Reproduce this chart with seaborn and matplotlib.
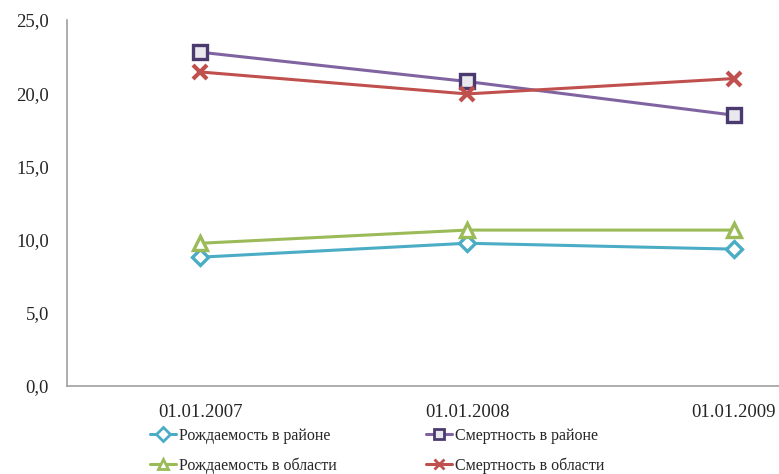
import pandas
import seaborn as sns
import matplotlib.pyplot as plt

dates = ["01.01.2007", "01.01.2008", "01.01.2009"]
birth_district = [8.8, 9.75, 9.35]
death_district = [22.8, 20.8, 18.5]
birth_region = [9.75, 10.65, 10.65]
death_region = [21.45, 19.95, 21.0]

names = ["Рождаемость в районе", "Смертность в районе",
         "Рождаемость в области", "Смертность в области"]
series = [birth_district, death_district, birth_region, death_region]

df = pandas.concat(
    [pandas.DataFrame({"date": dates, "value": vals, "series": name})
     for name, vals in zip(names, series)],
    ignore_index=True,
)

palette = {names[0]: "#4BACC6", names[1]: "#8064A2",
           names[2]: "#9BBB59", names[3]: "#C0504D"}
marker_of = {names[0]: "D", names[1]: "s", names[2]: "^", names[3]: "x"}
face_of = {names[0]: "white", names[1]: "#E8E8EE", names[2]: "white", names[3]: "none"}
edge_of = {names[0]: "#4BACC6", names[1]: "#4B3A6E", names[2]: "#9BBB59", names[3]: "#C0504D"}
size_of = {names[0]: 8, names[1]: 10, names[2]: 10, names[3]: 10}

sns.set_style("white")
plt.rcParams["font.family"] = ["Liberation Serif", "DejaVu Serif"]

fig = plt.figure(figsize=(7.79, 4.74), dpi=100)
ax = fig.add_axes([67 / 779, 88 / 474, 712 / 779, 366 / 474])

sns.lineplot(data=df, x="date", y="value", hue="series", hue_order=names,
             palette=palette, sort=False, linewidth=2.2, ax=ax, legend=False)

# seaborn can't mix filled and line markers, so set them on the lines afterwards
for line, name in zip(ax.lines, names):
    line.set_marker(marker_of[name])
    line.set_markersize(size_of[name])
    line.set_markerfacecolor(face_of[name])
    line.set_markeredgecolor(edge_of[name])
    line.set_markeredgewidth(2.4 if name != names[3] else 3)

ax.set_ylim(0, 25)
ax.set_yticks([0, 5, 10, 15, 20, 25])
ax.set_yticklabels(["0,0", "5,0", "10,0", "15,0", "20,0", "25,0"])
ax.set_xlim(-0.5, 2.17)
ax.set_xticks([0, 1, 2])
ax.set_xticks([-0.5, 0.5, 1.5], minor=True)
ax.tick_params(axis="x", which="major", length=0, pad=13, labelsize=13.5)
ax.tick_params(axis="x", which="minor", length=5, color="#A0A0A0", direction="out")
ax.tick_params(axis="y", length=6, color="#A0A0A0", direction="out", labelsize=13.5, pad=7)
ax.set_xlabel("")
ax.set_ylabel("")

for side in ["top", "right"]:
    ax.spines[side].set_visible(False)
for side in ["left", "bottom"]:
    ax.spines[side].set_color("#A0A0A0")
    ax.spines[side].set_linewidth(1.2)

# legend, row order like the original
handles = []
for name in names:
    h, = ax.plot([], [], color=palette[name], marker=marker_of[name], lw=2.2,
                 ms=7, mfc=face_of[name], mec=edge_of[name], mew=2)
    handles.append(h)
order = [0, 2, 1, 3]
fig.legend([handles[i] for i in order], [names[i] for i in order], ncol=2,
           loc="lower left", bbox_to_anchor=(150 / 779, 0.0), frameon=False,
           borderpad=0, borderaxespad=0, fontsize=11.5, columnspacing=5.6,
           handlelength=1.6, handletextpad=0.2, labelspacing=0.85)

fig.savefig("out.png", dpi=100)
